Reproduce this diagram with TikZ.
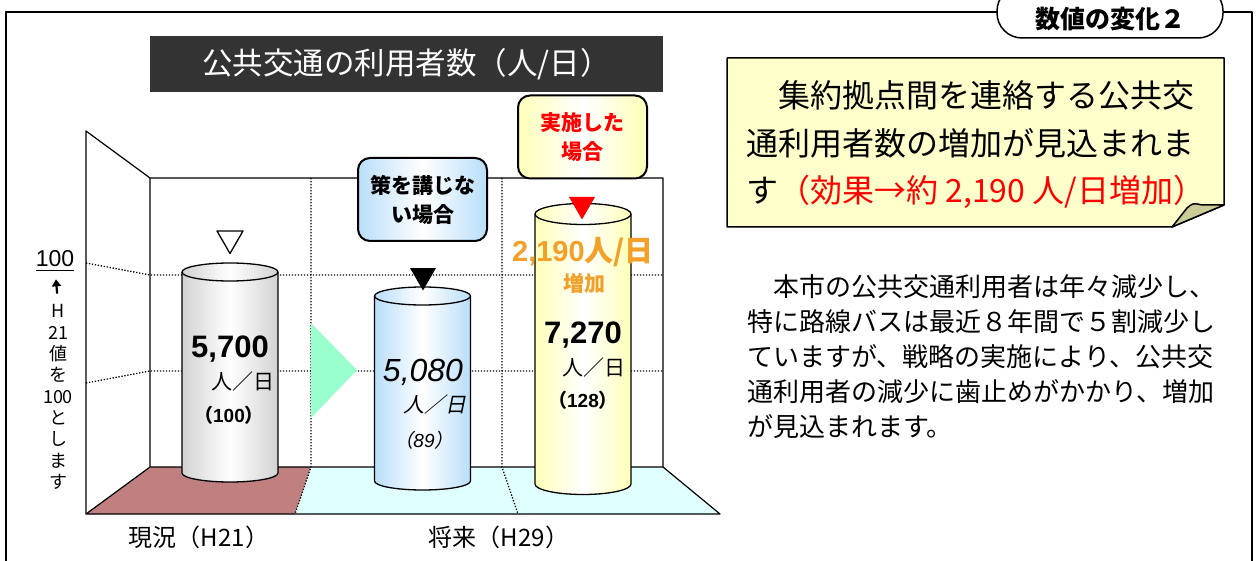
\documentclass[tikz,border=0pt]{standalone}
\usepackage{fontspec}
\setmainfont{Noto Sans CJK JP}
\newfontfamily\arial{Liberation Sans}
\newfontfamily\jpit[FakeSlant=0.2]{Noto Sans CJK JP}
\usetikzlibrary{positioning,arrows.meta,shapes.geometric}

\definecolor{barbg}{RGB}{51,51,51}
\definecolor{floorA}{RGB}{192,128,128}
\definecolor{floorB}{RGB}{224,255,255}
\definecolor{mint}{RGB}{153,255,204}
\definecolor{cylblue}{RGB}{185,222,250}
\definecolor{cylyel}{RGB}{255,255,185}
\definecolor{noteyel}{RGB}{255,255,204}
\definecolor{foldcol}{RGB}{204,204,153}
\definecolor{glow}{RGB}{242,160,40}

\begin{document}
\begin{tikzpicture}[x=1pt, y=-1pt, line join=round,
  every node/.style={align=center, inner sep=0pt},
  wall/.style={line width=1.2pt},
  grid/.style={line width=1.3pt, dash pattern=on 1.3pt off 1.7pt},
  tag/.style={draw, line width=2pt, rounded corners=12pt, minimum width=129pt,
    minimum height=83pt, font=\bfseries\fontsize{21}{29}\selectfont},
  tri/.style={regular polygon, regular polygon sides=3, shape border rotate=180,
    minimum size=30pt, line width=1.3pt}]
\useasboundingbox (0,0) rectangle (1257,561);

% frame and tab
\draw[line width=2.5pt] (998,12) -- (6,12) -- (6,580);
\draw[line width=2.5pt] (1222,12) -- (1252,12) -- (1252,580);
\draw[fill=white, line width=1.5pt, rounded corners=25pt] (997,-14) rectangle (1223,38);
\node (TB) at (1110,19) [font=\bfseries\fontsize{25}{27}\selectfont] {数値の変化２};

% chart title
\node (T) at (406.5,64) [fill=barbg, text=white, minimum width=513pt, minimum height=56pt,
  font=\fontsize{30.5}{32}\selectfont] {公共交通の利用者数（人/日）};

% floor and walls
\fill[floorA] (86,514) -- (150,467) -- (311,467) -- (295,514) -- cycle;
\fill[floorB] (295,514) -- (311,467) -- (663,467) -- (720,514) -- cycle;
\draw[wall] (86,514) -- (86,131) -- (150,178) -- (663,178) -- (663,467);
\draw[wall] (150,178) -- (150,467) -- (663,467) -- (720,514) -- (86,514) -- (150,467);
\draw[grid] (86,263) -- (150,275) -- (663,275);
\draw[grid] (86,383) -- (150,371) -- (663,371);
\draw[grid] (311,178) -- (311,467) -- (295,514);
\draw[grid] (502,178) -- (502,467) -- (518,514);
\fill[mint] (311,323) -- (357,370) -- (311,418) -- cycle;

% cylinders
\foreach \cx/\yt/\yb/\ry/\col in {230/272/473/9/gray!35, 422.5/296/481/9/cylblue, 583/214/484/10.5/cylyel}{
  \shade[left color=\col, right color=\col, middle color=white]
    (\cx-48,\yt) -- (\cx-48,\yb) arc[start angle=180, end angle=0, x radius=48, y radius=\ry] -- (\cx+48,\yt) -- cycle;
  \draw[line width=1.3pt] (\cx-48,\yt) -- (\cx-48,\yb) arc[start angle=180, end angle=0, x radius=48, y radius=\ry] -- (\cx+48,\yt);
  \draw[line width=1.3pt, left color=\col, right color=\col, middle color=white] (\cx,\yt) ellipse[x radius=48, y radius=\ry];
}

\node (M1) [tri, draw, fill=white] at (230,238.5) {};
\node (M2) [tri, fill=black] at (423,275.5) {};
\node (M3) [tri, fill=red] at (582,204.5) {};

\node (G1) at (583,252) [text=glow, font=\arial\bfseries\fontsize{29}{31}\selectfont] {2,190{\rmfamily 人/日}};
\node (G2) at (584,283) [text=glow, font=\bfseries\fontsize{21}{23}\selectfont] {増加};

\node (V1) at (230,349) [font=\arial\bfseries\fontsize{31}{33}\selectfont] {5,700};
\node (U1) at (243,382) [font=\fontsize{21}{23}\selectfont] {人／日};
\node (P1) at (229,415) [font=\bfseries\fontsize{19}{21}\selectfont] {（{\arial 100}）};

\node (V2) at (423,372) [font=\arial\itshape\fontsize{32}{34}\selectfont] {5,080};
\node (U2) at (435,405) [font=\jpit\fontsize{21}{23}\selectfont] {人／日};
\node (P2) at (424,440) [font=\jpit\fontsize{19}{21}\selectfont] {（{\arial\itshape 89}）};

\node (V3) at (583,335) [font=\arial\bfseries\fontsize{31}{33}\selectfont] {7,270};
\node (U3) at (594,368) [font=\fontsize{21}{23}\selectfont] {人／日};
\node (P3) at (583,400) [font=\bfseries\fontsize{19}{21}\selectfont] {（{\arial 128}）};

% callouts
\node (S1) [tag, left color=cylblue, right color=cylblue, middle color=white] at (422.5,199.5) {策を講じな\\い場合};
\node (S2) [tag, left color=cylyel, right color=cylyel, middle color=white, text=red] at (582.5,137) {実施した\\場合};

% axis note
\node (A0) at (55,259) [font=\arial\fontsize{23}{25}\selectfont] {100};
\draw[line width=1.5pt] ([yshift=-3pt]A0.south west) -- ([yshift=-3pt]A0.south east);
\node (AX) at (58,397) [font=\fontsize{18}{21.3}\selectfont] {H\\21\\値\\を\\100\\と\\し\\ま\\す};
\draw[-{Triangle[width=9pt,length=7pt]}, line width=2.2pt, shorten <=11pt, shorten >=12pt] (AX.north) -- (A0.south);

\node (X1) at (199,537) [font=\fontsize{24}{26}\selectfont] {現況（H21）};
\node (X2) at (499,537) [font=\fontsize{24}{26}\selectfont] {将来（H29）};

% message note
\filldraw[fill=noteyel, line width=1.5pt] (727,58) -- (1224,58) -- (1224,205) -- (1172,227) -- (727,227) -- cycle;
\filldraw[fill=foldcol, line width=1.5pt] (1172,227) -- (1187,208) .. controls (1193,203) .. (1202,205) -- (1224,205) -- cycle;
\node (N) [anchor=west, align=left, font=\fontsize{32}{47.5}\selectfont] at (746,145)
  {　集約拠点間を連絡する公共交\\通利用者数の増加が見込まれま\\す\textcolor{red}{（効果→約 2,190 人/日増加）}};

\node (B) [anchor=west, align=left, font=\fontsize{26}{35}\selectfont] at (747,357)
  {　本市の公共交通利用者は年々減少し、\\特に路線バスは最近８年間で５割減少し\\ていますが、戦略の実施により、公共交\\通利用者の減少に歯止めがかかり、増加\\が見込まれます。};
\end{tikzpicture}
\end{document}
